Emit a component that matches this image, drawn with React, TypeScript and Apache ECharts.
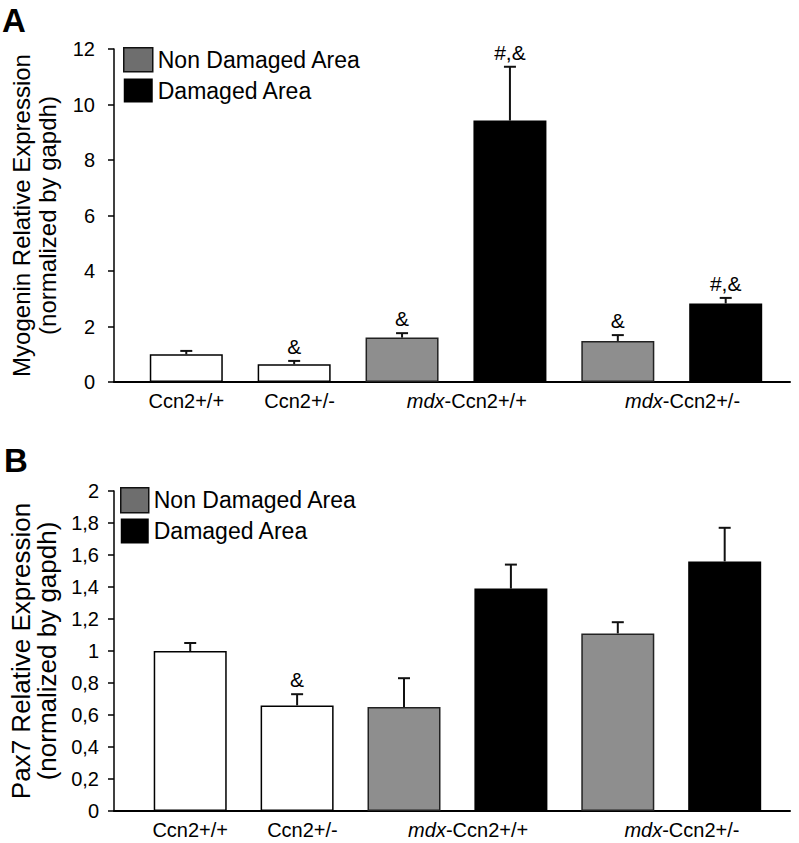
import React, { useEffect, useRef } from 'react';
import * as echarts from 'echarts';

const FONT = '"Liberation Sans", Arial, Helvetica, sans-serif';

// Categories / groups
const groupLabels = ['Ccn2+/+', 'Ccn2+/-', 'mdx-Ccn2+/+', 'mdx-Ccn2+/-'];
const groupLabelPos = [0, 1.05, 2.6, 4.6];
const barPos = [0, 1, 2, 3, 4, 5];
const barKinds = ['wt', 'wt', 'nd', 'd', 'nd', 'd'];
const legendNames = ['Non Damaged Area', 'Damaged Area'];

// Panel A: Myogenin
const myogeninMean = [1.0, 0.64, 1.6, 9.42, 1.48, 2.83];
const myogeninErrTop = [1.12, 0.76, 1.76, 11.36, 1.69, 3.03];
const myogeninMarks = ['', '&', '&', '#,&', '&', '#,&'];

// Panel B: Pax7
const pax7Mean = [1.0, 0.66, 0.65, 1.39, 1.11, 1.56];
const pax7ErrTop = [1.05, 0.73, 0.83, 1.54, 1.18, 1.77];
const pax7Marks = ['', '&', '', '', '', ''];

const kindStyle: Record<string, any> = {
  wt: { color: '#ffffff', borderColor: '#000', borderWidth: 1.5 },
  nd: { color: '#8e8e8e', borderColor: '#222', borderWidth: 1.5 },
  d: { color: '#000000', borderColor: '#000', borderWidth: 0 },
};

function panelSeries(idx: number, mean: number[], errTop: number[], marks: string[]) {
  const bars = [
    { name: 'Ccn2', kind: 'wt' },
    { name: legendNames[0], kind: 'nd' },
    { name: legendNames[1], kind: 'd' },
  ].map((s) => ({
    type: 'bar',
    name: s.name,
    xAxisIndex: idx,
    yAxisIndex: idx,
    barWidth: 73,
    barGap: '-100%',
    itemStyle: kindStyle[s.kind],
    color: kindStyle[s.kind].color,
    data: barPos
      .map((x, i) => (barKinds[i] === s.kind ? [x, mean[i]] : null))
      .filter((d) => d !== null),
  }));
  const err = {
    type: 'custom',
    name: 'err' + idx,
    xAxisIndex: idx,
    yAxisIndex: idx,
    z: 5,
    data: barPos.map((x, i) => [x, mean[i], errTop[i]]),
    renderItem: (params: any, api: any) => {
      const i = params.dataIndex;
      const x = api.value(0);
      const base = api.coord([x, api.value(1)]);
      const top = api.coord([x, api.value(2)]);
      const children: any[] = [
        { type: 'line', shape: { x1: base[0], y1: base[1], x2: top[0], y2: top[1] }, style: { stroke: '#111', lineWidth: 2 } },
        { type: 'line', shape: { x1: top[0] - 6, y1: top[1], x2: top[0] + 6, y2: top[1] }, style: { stroke: '#111', lineWidth: 2 } },
      ];
      if (marks[i]) {
        children.push({
          type: 'text',
          x: top[0],
          y: top[1] - 4,
          style: { text: marks[i], fontSize: 21, fontFamily: FONT, fill: '#000', align: 'center', verticalAlign: 'bottom' },
        });
      }
      return { type: 'group', children };
    },
  };
  const labels = {
    type: 'custom',
    name: 'labels' + idx,
    xAxisIndex: idx,
    yAxisIndex: idx,
    z: 5,
    clip: false,
    data: groupLabelPos.map((x) => [x, 0]),
    renderItem: (params: any, api: any) => {
      const i = params.dataIndex;
      const p = api.coord([api.value(0), 0]);
      const name = groupLabels[i];
      const isMdx = name.startsWith('mdx');
      return {
        type: 'text',
        x: p[0],
        y: p[1] + 9,
        style: {
          text: isMdx ? '{i|mdx}' + name.slice(3) : name,
          rich: { i: { fontStyle: 'italic', fontSize: 20, fontFamily: FONT, fill: '#000' } },
          fontSize: 20,
          fontFamily: FONT,
          fill: '#000',
          align: 'center',
          verticalAlign: 'top',
        },
      };
    },
  };
  return [...bars, err, labels];
}

function legendFor(left: number, top: number, w: number, h: number, gap: number) {
  return {
    left,
    top,
    orient: 'vertical',
    itemWidth: w,
    itemHeight: h,
    itemGap: gap,
    padding: 0,
    icon: 'rect',
    selectedMode: false,
    data: [
      { name: legendNames[0], itemStyle: { color: '#6e6e6e', borderColor: '#111', borderWidth: 1.5 } },
      { name: legendNames[1], itemStyle: { color: '#000', borderColor: '#000', borderWidth: 0 } },
    ],
    textStyle: { fontSize: 23, color: '#000', fontFamily: FONT },
  };
}

const axisLineStyle = { color: '#000', width: 1.5 };

export default function App() {
  const ref = useRef<HTMLDivElement>(null);
  useEffect(() => {
    if (!ref.current) return;
    const chart = echarts.init(ref.current, undefined, { renderer: 'svg' });
    const option: any = {
      animation: false,
      backgroundColor: '#fff',
      title: [
        { text: 'A', left: 2, top: 4, padding: 0, textStyle: { fontSize: 33, fontWeight: 'bold', fontFamily: FONT, color: '#000' } },
        { text: 'B', left: 4, top: 444, padding: 0, textStyle: { fontSize: 33, fontWeight: 'bold', fontFamily: FONT, color: '#000' } },
      ],
      legend: [legendFor(123, 47, 29, 24, 6), legendFor(120, 487, 28, 25, 5)],
      grid: [
        { left: 107, right: 9, top: 49, height: 333 },
        { left: 107, right: 9, top: 491, height: 320 },
      ],
      xAxis: [
        { type: 'value', gridIndex: 0, min: -0.67, max: 5.596, axisLine: { show: true, onZero: false, lineStyle: { color: '#000', width: 2 } }, axisTick: { show: false }, axisLabel: { show: false }, splitLine: { show: false } },
        { type: 'value', gridIndex: 1, min: -0.713, max: 5.611, axisLine: { show: true, onZero: false, lineStyle: { color: '#000', width: 2 } }, axisTick: { show: false }, axisLabel: { show: false }, splitLine: { show: false } },
      ],
      yAxis: [
        {
          type: 'value', gridIndex: 0, min: 0, max: 12, interval: 2,
          name: 'Myogenin Relative Expression\n(normalized by gapdh)',
          nameLocation: 'middle', nameGap: 54,
          nameTextStyle: { fontSize: 24, lineHeight: 26, color: '#000', fontFamily: FONT },
          axisLine: { show: true, onZero: false, lineStyle: axisLineStyle },
          axisTick: { show: true, length: 6, lineStyle: axisLineStyle },
          axisLabel: { fontSize: 20, color: '#000', fontFamily: FONT, margin: 19 },
          splitLine: { show: false },
        },
        {
          type: 'value', gridIndex: 1, min: 0, max: 2, interval: 0.2,
          name: 'Pax7 Relative Expression\n(normalized by gapdh)',
          nameLocation: 'middle', nameGap: 54,
          nameTextStyle: { fontSize: 26, lineHeight: 26, color: '#000', fontFamily: FONT },
          axisLine: { show: true, onZero: false, lineStyle: axisLineStyle },
          axisTick: { show: true, length: 6, lineStyle: axisLineStyle },
          axisLabel: {
            fontSize: 20, color: '#000', fontFamily: FONT, margin: 15,
            formatter: (v: number) => String(Math.round(v * 10) / 10).replace('.', ','),
          },
          splitLine: { show: false },
        },
      ],
      series: [
        ...panelSeries(0, myogeninMean, myogeninErrTop, myogeninMarks),
        ...panelSeries(1, pax7Mean, pax7ErrTop, pax7Marks),
      ],
    };
    chart.setOption(option);
    return () => chart.dispose();
  }, []);
  return (
    <div
      ref={ref}
      style={{ position: 'fixed', left: 0, top: 0, width: 799, height: 843, background: '#fff' }}
    />
  );
}
